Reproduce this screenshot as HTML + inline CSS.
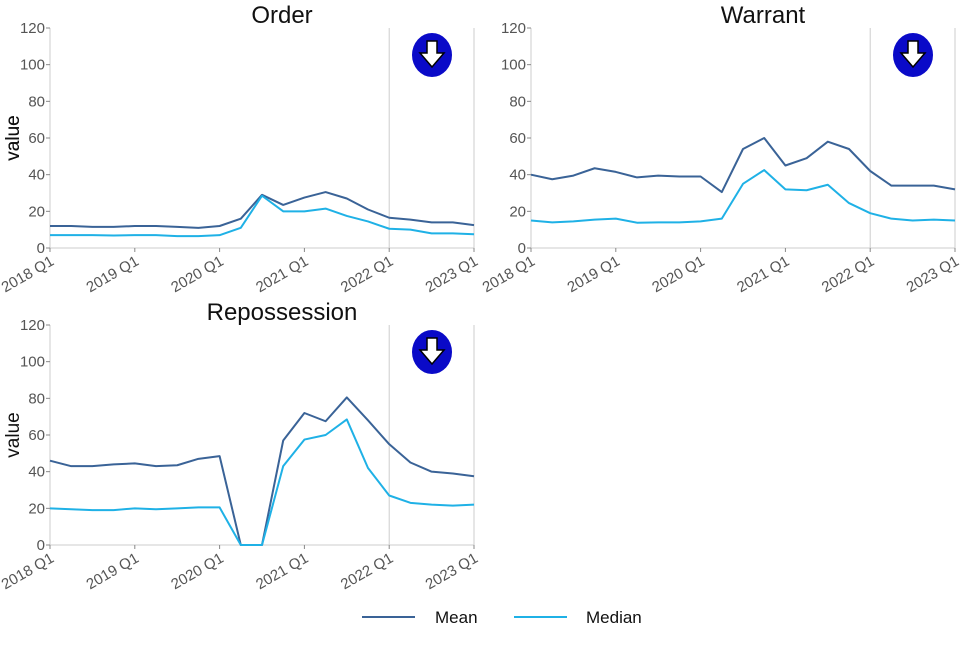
<!DOCTYPE html>
<html><head><meta charset="utf-8"><style>
body{margin:0;background:#fff;font-family:"Liberation Sans",sans-serif}
svg text{font-family:"Liberation Sans",sans-serif}
</style></head><body>
<svg id="c" width="960" height="640"></svg>
<script>
const quarters=21;
const tickLabels=["2018 Q1","2019 Q1","2020 Q1","2021 Q1","2022 Q1","2023 Q1"];
const yTicks=[0,20,40,60,80,100,120];
const orderMean=[12,12,11.5,11.5,12,12,11.5,11,12,16,29,23.5,27.5,30.5,27,21,16.5,15.5,14,14,12.5];
const orderMedian=[7,7,7,6.8,7,7,6.5,6.5,7,11,28.5,20,20,21.5,17.5,14.5,10.5,10,8,8,7.5];
const warrantMean=[40,37.5,39.5,43.5,41.5,38.5,39.5,39,39,30.5,54,60,45,49,58,54,42,34,34,34,32];
const warrantMedian=[15,14,14.5,15.5,16,13.8,14,14,14.5,16,35,42.5,32,31.5,34.5,24.5,19,16,15,15.5,15];
const repoMean=[46,43,43,44,44.5,43,43.5,47,48.5,0,0,57,72,67.5,80.5,68,55,45,40,39,37.5];
const repoMedian=[20,19.5,19,19,20,19.5,20,20.5,20.5,0,0,43,57.5,60,68.5,42,27,23,22,21.5,22];
const NS="http://www.w3.org/2000/svg";
const svg=document.getElementById('c');
function mk(t,a,p){const e=document.createElementNS(NS,t);for(const k in a)e.setAttribute(k,a[k]);(p||svg).appendChild(e);return e;}
function panel(title,x0,x1,y0,y1,mean,median,slug){
  const g=mk('g',{});
  
  
  const sx=i=>x0+(x1-x0)*i/(quarters-1);
  const sy=v=>y1-(y1-y0)*v/120;
  const t=mk('text',{x:(x0+x1)/2+20,y:y0-5,'font-size':24,'text-anchor':'middle',fill:'#111'},g);t.textContent=title;
  
  
  const yl=mk('text',{x:0,y:0,'font-size':19,'text-anchor':'middle',fill:'#111',transform:`translate(19,${(y0+y1)/2}) rotate(-90)`},g);yl.textContent='value';
  
  
  mk('line',{x1:x0,y1:y0,x2:x0,y2:y1,stroke:'#ccc','stroke-width':1},g);
  mk('line',{x1:x0,y1:y1,x2:x1,y2:y1,stroke:'#ccc','stroke-width':1},g);
  mk('line',{x1:sx(16),y1:y0,x2:sx(16),y2:y1,stroke:'#ccc','stroke-width':1},g);
  mk('line',{x1:x1,y1:y0,x2:x1,y2:y1,stroke:'#ccc','stroke-width':1},g);
  yTicks.forEach(v=>{
    mk('line',{x1:x0-4,y1:sy(v),x2:x0,y2:sy(v),stroke:'#888'},g);
    const tt=mk('text',{x:x0-5,y:sy(v)+5,'font-size':15,'text-anchor':'end',fill:'#555'},g);tt.textContent=v;
    
    
  });
  tickLabels.forEach((l,i)=>{
    const x=sx(i*4);
    mk('line',{x1:x,y1:y1,x2:x,y2:y1+4,stroke:'#888'},g);
    const tt=mk('text',{x:0,y:0,'font-size':15,'text-anchor':'end',fill:'#555',transform:`translate(${x+5},${y1+16}) rotate(-30)`},g);tt.textContent=l;
    
    
  });
  [[mean,'#3a6397','mean'],[median,'#1fb1e6','median']].forEach(([d,c,n])=>{
    const p=mk('polyline',{points:d.map((v,i)=>sx(i)+','+sy(v)).join(' '),fill:'none',stroke:c,'stroke-width':2,'stroke-linejoin':'round'},g);
    
    
  });
  const cx=x1-42,cy=y0+27;
  const ic=mk('g',{},g);
  
  
  mk('ellipse',{cx:cx,cy:cy,rx:20,ry:22,fill:'#0a0ac8'},ic);
  mk('path',{d:`M${cx-5} ${cy-14} h10 v12 h7 l-12 14 l-12 -14 h7 z`,fill:'#fff',stroke:'#000','stroke-width':1.5},ic);
}
panel('Order',50,474,28,248,orderMean,orderMedian,'order');
panel('Warrant',531,955,28,248,warrantMean,warrantMedian,'warrant');
panel('Repossession',50,474,325,545,repoMean,repoMedian,'repossession');
const lg=mk('g',{});


[['Mean','#3a6397',362,435],['Median','#1fb1e6',514,586]].forEach(([l,c,x,tx])=>{
  const e=mk('g',{},lg);
  
  
  mk('line',{x1:x,y1:617,x2:x+53,y2:617,stroke:c,'stroke-width':2},e);
  const t=mk('text',{x:tx,y:623,'font-size':17,fill:'#111'},e);t.textContent=l;
});
</script>
</body></html>
